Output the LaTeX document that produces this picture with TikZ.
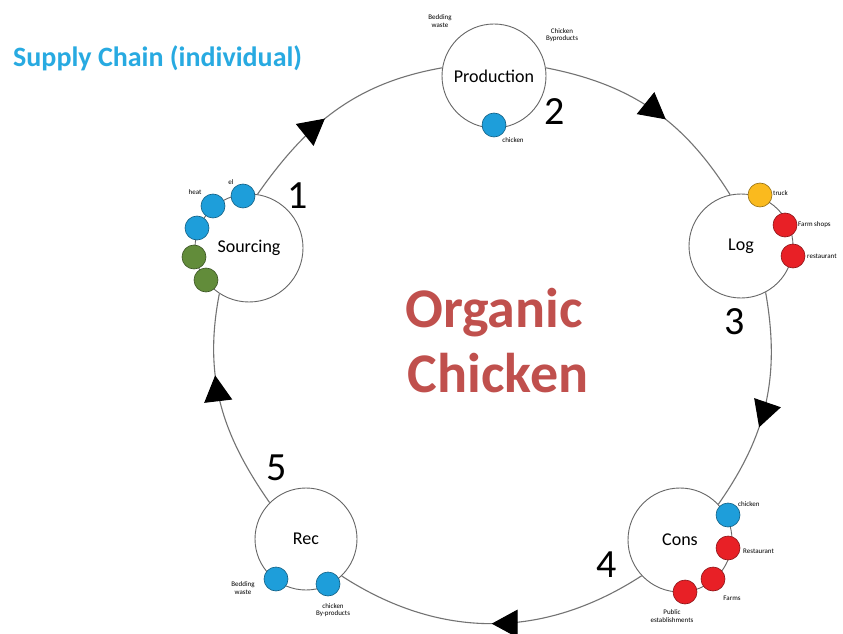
\documentclass[tikz,border=0pt]{standalone}
\usepackage{fontspec}
\setmainfont{Carlito}
\usetikzlibrary{arrows.meta,decorations.markings}
\definecolor{cblue}{RGB}{30,158,218}
\definecolor{cred}{RGB}{232,32,38}
\definecolor{cgreen}{RGB}{98,140,58}
\definecolor{cyellow}{RGB}{250,186,30}
\definecolor{ctitle}{RGB}{40,170,225}
\definecolor{corg}{RGB}{192,80,77}
\begin{document}
\begin{tikzpicture}[x=1pt,y=1pt,
  stage/.style={circle,draw=black!60,line width=0.9pt,inner sep=0pt,minimum size=#1,font=\fontsize{18}{20}\selectfont},
  dot/.style={circle,draw=#1!60!black,fill=#1,line width=0.6pt,inner sep=0pt,minimum size=24pt},
  tiny/.style={font=\fontsize{7}{7.5}\selectfont,align=center,inner sep=0pt},
  num/.style={font=\fontsize{40}{40}\selectfont,inner sep=0pt},
  ring/.style={draw=black!55,line width=1.1pt},
  arrowat/.style={postaction={decorate},decoration={markings,mark=at position #1 with {\arrow{Triangle[length=26pt,width=28pt,color=black,fill=black]}}}}
]
\fill[white] (0,0) rectangle (843,633);
\useasboundingbox (0,0) rectangle (843,633);

% title and centre text
\node[anchor=base west,inner sep=0pt,text=ctitle,font=\fontsize{28}{30}\selectfont\bfseries] (title) at (13,566) {Supply Chain (individual)};
\node[anchor=base,inner sep=0pt,text=corg,font=\fontsize{56}{60}\selectfont\bfseries] (org) at (494,306) {Organic};
\node[anchor=base,inner sep=0pt,text=corg,font=\fontsize{56}{60}\selectfont\bfseries] (chk) at (498,241) {Chicken};

% stages
\node[stage=104pt] (prod) at (494,557) {Production};
\node[stage=108pt] (src) at (249,385) {Sourcing};
\node[stage=104pt] (log) at (741,387) {Log};
\node[stage=104pt] (cons) at (680,93) {Cons};
\node[stage=102pt] (rec) at (306,94) {Rec};

% ring connectors
\draw[ring,arrowat=0.44] (src.81) to[out=55,in=190] (prod.171);
\draw[ring,arrowat=0.57] (prod.9) to[out=-11,in=122] (log.102);
\draw[ring,arrowat=0.61] (log.-62) to[out=-80,in=55] (cons.43);
\draw[ring,arrowat=0.50] (cons.223) to[out=213,in=-33] (rec.-46);
\draw[ring,arrowat=0.63] (rec.135) to[out=125,in=-101] (src.237);

% numbers
\node[num] (n1) at (298,437) {1};
\node[num] (n2) at (555,521) {2};
\node[num] (n3) at (735,311) {3};
\node[num] (n4) at (607,68) {4};
\node[num] (n5) at (277,165) {5};

% production
\node[dot=cblue] (pd1) at (494,508) {};
\node[tiny] (pl1) at (440,612) {Bedding\\waste};
\node[tiny] (pl2) at (562,598) {Chicken\\Byproducts};
\node[tiny] (pl3) at (513,493) {chicken};

% sourcing
\node[dot=cblue] (sd1) at (243,437) {};
\node[dot=cblue] (sd2) at (213,427) {};
\node[dot=cblue] (sd3) at (197,405) {};
\node[dot=cgreen] (sd4) at (194,376) {};
\node[dot=cgreen] (sd5) at (206,353) {};
\node[tiny] (sl1) at (195,441) {heat};
\node[tiny] (sl2) at (231,451) {el};

% log
\node[dot=cyellow] (ld1) at (760,438) {};
\node[dot=cred] (ld2) at (785,408) {};
\node[dot=cred] (ld3) at (793,377) {};
\node[tiny,anchor=west] (ll1) at (773,440) {truck};
\node[tiny,anchor=west] (ll2) at (798,408) {Farm shops};
\node[tiny,anchor=west] (ll3) at (807,377) {restaurant};

% cons
\node[dot=cblue] (cd1) at (728,118) {};
\node[dot=cred] (cd2) at (728,85) {};
\node[dot=cred] (cd3) at (713,54) {};
\node[dot=cred] (cd4) at (685,41) {};
\node[tiny,anchor=west] (cl1) at (738,129) {chicken};
\node[tiny,anchor=west] (cl2) at (743,82) {Restaurant};
\node[tiny] (cl3) at (732,35) {Farms};
\node[tiny] (cl4) at (672,17) {Public\\establishments};

% rec
\node[dot=cblue] (rd1) at (276,54) {};
\node[dot=cblue] (rd2) at (328,49) {};
\node[tiny] (rl1) at (243,45) {Bedding\\waste};
\node[tiny] (rl2) at (333,23) {chicken\\By-products};
\end{tikzpicture}
\end{document}
